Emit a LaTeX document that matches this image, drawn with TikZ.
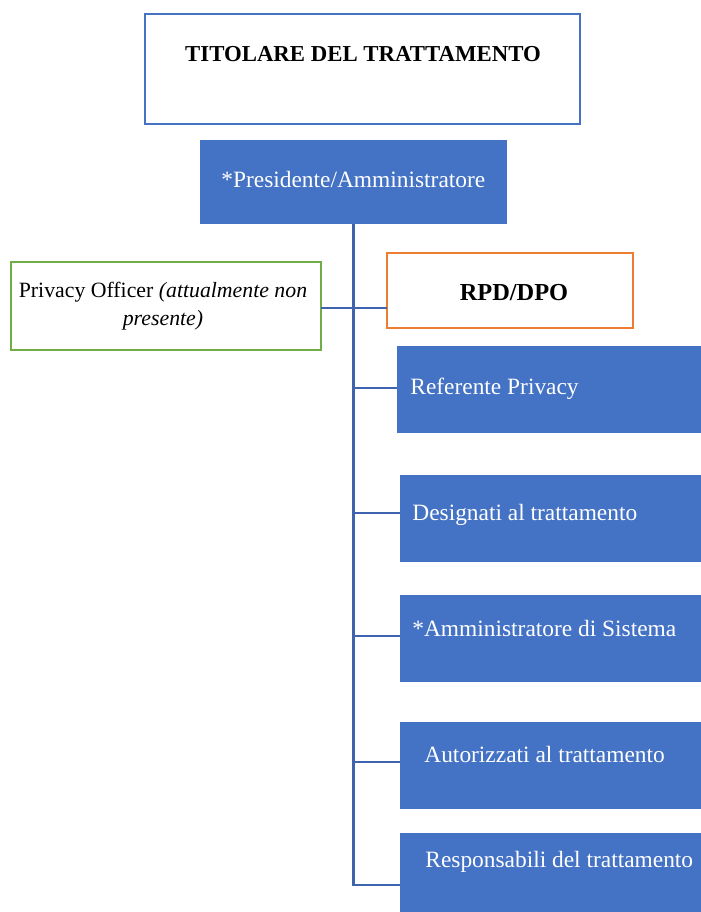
\documentclass[tikz,border=0pt]{standalone}
\usepackage{fontspec}
\setmainfont{Liberation Serif}
\definecolor{boxblue}{HTML}{4472C4}
\definecolor{lineblue}{RGB}{62,100,176}
\definecolor{pgreen}{HTML}{70AD47}
\definecolor{porange}{HTML}{ED7D31}
\begin{document}
\begin{tikzpicture}[x=0.5pt,y=-0.5pt,
  box/.style={rectangle,inner sep=0pt,outer sep=0pt},
  bluebox/.style={box,fill=boxblue},
  txt/.style={inner sep=0pt,font=\fontsize{11.3}{14}\selectfont},
  wtxt/.style={inner sep=0pt,font=\fontsize{11.7}{14}\selectfont,text=white,anchor=west},
  conn/.style={draw=lineblue,line width=1.2pt}]
\useasboundingbox (0,0) rectangle (701,912);
% boxes
\node[box,draw=boxblue,line width=1.3pt,minimum width=217.5pt,minimum height=55pt] (tit) at (362.5,69) {};
\node[bluebox,minimum width=153.5pt,minimum height=42pt] (pres) at (353.5,182) {};
\node[box,draw=pgreen,line width=1.1pt,minimum width=155pt,minimum height=44pt] (priv) at (166,306) {};
\node[box,draw=porange,line width=1.1pt,minimum width=123pt,minimum height=37.5pt] (rpd) at (510,290.5) {};
\node[bluebox,minimum width=152pt,minimum height=43.5pt] (ref) at (549,389.5) {};
\node[bluebox,minimum width=150.5pt,minimum height=43.5pt] (des) at (550.5,518.5) {};
\node[bluebox,minimum width=150.5pt,minimum height=43.5pt] (amm) at (550.5,638.5) {};
\node[bluebox,minimum width=150.5pt,minimum height=43.5pt] (aut) at (550.5,765.5) {};
\node[bluebox,minimum width=150.5pt,minimum height=39.5pt] (resp) at (550.5,872.5) {};
% texts
\node[txt,font=\fontsize{11.4}{14}\selectfont\bfseries] (ttit) at (363,54) {TITOLARE DEL TRATTAMENTO};
\node[wtxt] (tpres) at (221,179) {*Presidente/Amministratore};
\node[txt,align=center,font=\fontsize{10.9}{14}\selectfont] (tpriv) at (163,306) {Privacy Officer \textit{(attualmente non}\\\textit{presente)}};
\node[txt,font=\fontsize{12.2}{14}\selectfont\bfseries] (trpd) at (514,293) {RPD/DPO};
\node[wtxt] (tref) at (410,389) {Referente Privacy};
\node[wtxt] (tdes) at (412,515) {Designati al trattamento};
\node[wtxt] (tamm) at (412,628) {*Amministratore di Sistema};
\node[wtxt] (taut) at (424,754) {Autorizzati al trattamento};
\node[wtxt] (tresp) at (425,862) {Responsabili del trattamento};
% connector points
\coordinate (cref) at ([yshift=0.75pt]ref.west);
\coordinate (cdes) at ([yshift=2.75pt]des.west);
\coordinate (camm) at ([yshift=1.25pt]amm.west);
\coordinate (caut) at ([yshift=1.75pt]aut.west);
\coordinate (cresp) at ([yshift=-6.25pt]resp.west);
\coordinate (cpriv) at ([yshift=-1pt]priv.east);
% connectors
\draw[conn] (pres.south) |- (cresp);
\draw[conn] (cref -| pres.south) -- (cref);
\draw[conn] (cdes -| pres.south) -- (cdes);
\draw[conn] (camm -| pres.south) -- (camm);
\draw[conn] (caut -| pres.south) -- (caut);
\draw[conn] (cpriv) -- (cpriv -| rpd.west);
\end{tikzpicture}
\end{document}
